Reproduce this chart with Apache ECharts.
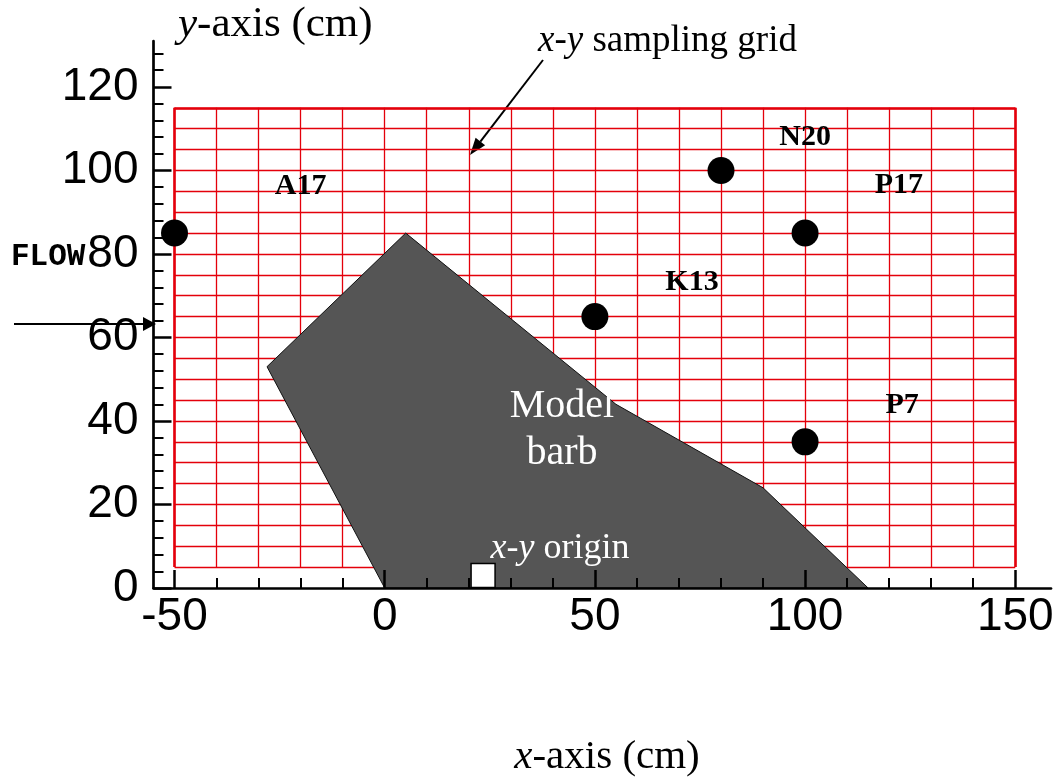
<!DOCTYPE html>
<html>
<head>
<meta charset="utf-8">
<script src="https://cdn.jsdelivr.net/npm/echarts@6/dist/echarts.min.js"></script>
<style>
  html, body { margin: 0; padding: 0; background: #fff; }
  #chart-container { width: 1061px; height: 783px; }
</style>
</head>
<body>
<div id="chart-container"></div>
<script>
var dom = document.getElementById('chart-container');
var myChart = echarts.init(dom, null, { renderer: 'canvas' });

// tick values
var xTickLabels = [-50, 0, 50, 100, 150];
var xMinorTicks = [-40, -30, -20, -10, 10, 20, 30, 40, 60, 70, 80, 90, 110, 120, 130, 140];
var yTickLabels = [0, 20, 40, 60, 80, 100, 120];
var yMinorTicks = [4, 8, 12, 16, 24, 28, 32, 36, 44, 48, 52, 56, 64, 68, 72, 76, 84, 88, 92, 96, 104, 108, 112, 116, 124, 128];

// red sampling grid
var gridColumns = [-50, -40, -30, -20, -10, 0, 10, 20, 30, 40, 50, 60, 70, 80, 90, 100, 110, 120, 130, 140, 150];
var gridRows = [5, 10, 15, 20, 25, 30, 35, 40, 45, 50, 55, 60, 65, 70, 75, 80, 85, 90, 95, 100, 105, 110, 115];

// model barb outline
var barbX = [-28, 5, 55, 90, 115, 0];
var barbY = [53, 85, 44, 24, 0, 0];

// sampling points
var pointX = [-50, 80, 100, 50, 100];
var pointY = [85, 100, 85, 65, 35];

// point labels
var labelNames = ['A17', 'N20', 'P17', 'K13', 'P7'];
var labelX = [-20, 100, 122.3, 73.1, 123.1];
var labelY = [96.3, 107.9, 96.4, 73.3, 43.8];

// origin marker
var originX = [23.4];
var originY = [3];

var gridLines = [];
gridColumns.forEach(function (x) {
  gridLines.push({ coords: [[x, gridRows[0]], [x, gridRows[gridRows.length - 1]]] });
});
gridRows.forEach(function (y) {
  gridLines.push({ coords: [[gridColumns[0], y], [gridColumns[gridColumns.length - 1], y]] });
});
var x0 = gridColumns[0], x1 = gridColumns[gridColumns.length - 1];
var y0 = gridRows[0], y1 = gridRows[gridRows.length - 1];
var gridBorder = [
  { coords: [[x0, y0], [x0, y1]] },
  { coords: [[x1, y0], [x1, y1]] },
  { coords: [[x0, y1], [x1, y1]] }
];

var serif = "'Liberation Serif', 'Times New Roman', serif";
var sans = "'Liberation Sans', Arial, sans-serif";

function arrow(x1, y1, x2, y2, len, half) {
  var dx = x2 - x1, dy = y2 - y1;
  var d = Math.sqrt(dx * dx + dy * dy);
  var ux = dx / d, uy = dy / d;
  var bx = x2 - ux * len, by = y2 - uy * len;
  return [
    { type: 'line', shape: { x1: x1, y1: y1, x2: bx, y2: by }, style: { stroke: '#000', lineWidth: 2 } },
    { type: 'polygon', shape: { points: [[x2, y2], [bx - uy * half, by + ux * half], [bx + uy * half, by - ux * half]] }, style: { fill: '#000' } }
  ];
}

var graphics = [
  {
    type: 'text', left: 178, top: 3,
    style: { text: '{i|y}-axis (cm)', font: '43px ' + serif, fill: '#000', rich: { i: { fontStyle: 'italic', fontSize: 43, fontFamily: serif } } }
  },
  {
    type: 'text', left: 538, top: 23,
    style: { text: '{i|x-y} sampling grid', font: '37px ' + serif, fill: '#000', rich: { i: { fontStyle: 'italic', fontSize: 37, fontFamily: serif } } }
  },
  {
    type: 'text', left: 11, top: 242,
    style: { text: 'FLOW', font: 'bold 31px \'Liberation Mono\', \'Courier New\', monospace', fill: '#000' }
  },
  {
    type: 'text', x: 562, y: 430, z: 100,
    style: { text: 'Model\nbarb', font: '40px ' + serif, fill: '#fff', align: 'center', verticalAlign: 'middle', lineHeight: 47 }
  },
  {
    type: 'text', x: 560, y: 549, z: 100,
    style: { text: '{i|x-y} origin', font: '36px ' + serif, fill: '#fff', align: 'center', verticalAlign: 'middle', rich: { i: { fontStyle: 'italic', fontSize: 36, fontFamily: serif, fill: '#fff' } } }
  },
  {
    type: 'text', x: 607, y: 757,
    style: { text: '{i|x}-axis (cm)', font: '41px ' + serif, fill: '#000', align: 'center', verticalAlign: 'middle', rich: { i: { fontStyle: 'italic', fontSize: 41, fontFamily: serif } } }
  }
].concat(arrow(543, 60, 470, 155, 17, 6)).concat(arrow(14, 324, 156, 324, 13, 7));

var option = {
  animation: false,
  backgroundColor: '#fff',
  grid: {
    left: 153.5, right: 10, top: 41, bottom: 195,
    containLabel: false, outerBoundsMode: 'none'
  },
  xAxis: [
    {
      type: 'value', min: -55, max: 158.5, position: 'bottom', z: 10,
      splitLine: { show: false },
      axisLine: { show: true, onZero: false, lineStyle: { color: '#000', width: 2.7 } },
      axisTick: { show: true, inside: true, length: 18, customValues: xTickLabels, lineStyle: { color: '#000', width: 2.5 } },
      axisLabel: { show: true, customValues: xTickLabels, margin: 6, color: '#000', fontSize: 46, fontFamily: sans }
    },
    {
      type: 'value', min: -55, max: 158.5, position: 'bottom', z: 10,
      splitLine: { show: false },
      axisLine: { show: false, onZero: false },
      axisTick: { show: true, inside: true, length: 10, customValues: xMinorTicks, lineStyle: { color: '#000', width: 2 } },
      axisLabel: { show: false }
    }
  ],
  yAxis: [
    {
      type: 'value', min: 0, max: 131, position: 'left', z: 10,
      splitLine: { show: false },
      axisLine: { show: true, onZero: false, lineStyle: { color: '#000', width: 2.7 } },
      axisTick: { show: true, inside: true, length: 18, customValues: yTickLabels, lineStyle: { color: '#000', width: 2.5 } },
      axisLabel: { show: true, customValues: yTickLabels, margin: 15, color: '#000', fontSize: 46, fontFamily: sans }
    },
    {
      type: 'value', min: 0, max: 131, position: 'left', z: 10,
      splitLine: { show: false },
      axisLine: { show: false, onZero: false },
      axisTick: { show: true, inside: true, length: 10, customValues: yMinorTicks, lineStyle: { color: '#000', width: 2 } },
      axisLabel: { show: false }
    }
  ],
  graphic: graphics,
  series: [
    {
      type: 'lines', coordinateSystem: 'cartesian2d', z: 1,
      xAxisIndex: 0, yAxisIndex: 0,
      data: gridLines,
      lineStyle: { color: '#e4000b', width: 1.3, opacity: 1, curveness: 0 },
      silent: true
    },
    {
      type: 'lines', coordinateSystem: 'cartesian2d', z: 1,
      xAxisIndex: 0, yAxisIndex: 0,
      data: gridBorder,
      lineStyle: { color: '#e4000b', width: 2.6, opacity: 1, curveness: 0 },
      silent: true
    },
    {
      type: 'custom', coordinateSystem: 'cartesian2d', z: 3,
      xAxisIndex: 0, yAxisIndex: 0,
      data: [[barbX[0], barbY[0]]],
      clip: false,
      renderItem: function (params, api) {
        var pts = barbX.map(function (x, i) { return api.coord([x, barbY[i]]); });
        return {
          type: 'polygon',
          shape: { points: pts },
          style: { fill: '#555555', stroke: '#111', lineWidth: 1 }
        };
      }
    },
    {
      type: 'scatter', z: 5,
      xAxisIndex: 0, yAxisIndex: 0,
      symbol: 'circle', symbolSize: 27,
      itemStyle: { color: '#000', opacity: 1 },
      data: pointX.map(function (x, i) { return [x, pointY[i]]; })
    },
    {
      type: 'scatter', z: 5,
      xAxisIndex: 0, yAxisIndex: 0,
      symbol: 'rect', symbolSize: 24,
      itemStyle: { color: '#fff', borderColor: '#000', borderWidth: 1.5, opacity: 1 },
      data: originX.map(function (x, i) { return [x, originY[i]]; })
    },
    {
      type: 'scatter', z: 6,
      xAxisIndex: 0, yAxisIndex: 0,
      symbol: 'circle', symbolSize: 1,
      itemStyle: { color: 'transparent', opacity: 1 },
      label: {
        show: true, position: 'inside',
        formatter: function (p) { return labelNames[p.dataIndex]; },
        color: '#000', fontSize: 30, fontWeight: 'bold', fontFamily: serif
      },
      data: labelX.map(function (x, i) { return [x, labelY[i]]; })
    }
  ]
};

myChart.setOption(option);
window.addEventListener('resize', myChart.resize);
</script>
</body>
</html>
